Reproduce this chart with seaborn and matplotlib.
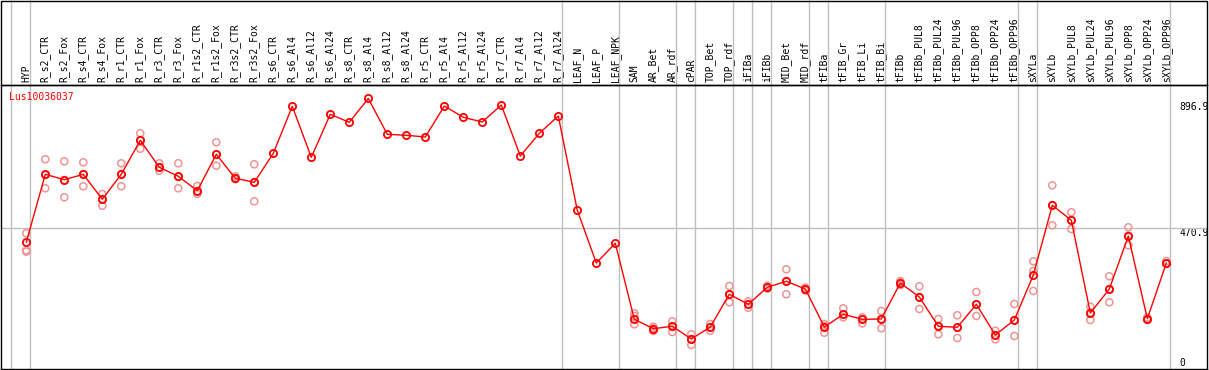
import matplotlib
matplotlib.use("Agg")
import matplotlib.pyplot as plt
import matplotlib.transforms as mtransforms
from matplotlib.patches import Rectangle
import seaborn as sns
import pandas as pd

gene = "Lus10036037"

samples = [
    "HYP", "R_s2_CTR", "R_s2_Fox", "R_s4_CTR", "R_s4_Fox", "R_r1_CTR", "R_r1_Fox",
    "R_r3_CTR", "R_r3_Fox", "R_r1s2_CTR", "R_r1s2_Fox", "R_r3s2_CTR", "R_r3s2_Fox",
    "R_s6_CTR", "R_s6_Al4", "R_s6_Al12", "R_s6_Al24", "R_s8_CTR", "R_s8_Al4",
    "R_s8_Al12", "R_s8_Al24", "R_r5_CTR", "R_r5_Al4", "R_r5_Al12", "R_r5_Al24",
    "R_r7_CTR", "R_r7_Al4", "R_r7_Al12", "R_r7_Al24", "LEAF_N", "LEAF_P", "LEAF_NPK",
    "SAM", "AR_Bet", "AR_rdf", "cPAR", "TOP_Bet", "TOP_rdf", "iFIBa", "iFIBb",
    "MID_Bet", "MID_rdf", "tFIBa", "tFIB_Gr", "tFIB_Li", "tFIB_Bi", "tFIBb",
    "tFIBb_PUL8", "tFIBb_PUL24", "tFIBb_PUL96", "tFIBb_OPP8", "tFIBb_OPP24",
    "tFIBb_OPP96", "sXYLa", "sXYLb", "sXYLb_PUL8", "sXYLb_PUL24", "sXYLb_PUL96",
    "sXYLb_OPP8", "sXYLb_OPP24", "sXYLb_OPP96",
]

# mean expression per sample
means = [
    425.2, 648.2, 630.5, 648.2, 566.2, 648.2, 759.7, 671.1, 641.6, 594.4, 713.8,
    635.1, 622.0, 717.0, 871.1, 703.9, 844.9, 818.7, 896.9, 779.3, 776.1, 770.5,
    872.1, 835.1, 819.7, 875.4, 708.2, 782.6, 839.3, 530.2, 357.4, 422.0,
    172.8, 142.0, 149.8, 108.2, 147.5, 254.8, 222.0, 277.7, 297.4, 272.1,
    147.5, 189.2, 172.8, 173.8, 291.8, 245.9, 149.8, 146.6, 222.0, 121.3, 170.5,
    318.0, 546.6, 497.4, 193.4, 272.1, 445.9, 174.8, 357.4,
]

# individual replicates (empty = single sample)
replicates = [
    [454.8, 399.0, 394.4], [697.4, 602.3, 645.9], [690.8, 572.8, 629.5],
    [687.5, 608.9, 649.2], [583.6, 545.2, 567.2], [684.3, 608.9, 649.2],
    [782.6, 732.1, 760.7], [684.3, 660.0, 670.5], [684.3, 602.3, 639.3],
    [609.8, 583.6, 593.4], [753.1, 676.4, 713.1], [641.6, 631.8, 634.4],
    [681.0, 559.7, 623.0],
    [], [], [], [], [], [], [], [], [], [], [], [], [], [], [], [], [], [], [],
    [192.5, 156.4, 183.6], [148.5, 134.4, 142.6], [166.2, 131.1, 149.8],
    [123.6, 88.5, 108.2], [157.4, 135.4, 147.5], [282.0, 228.5, 254.1],
    [231.8, 210.8, 223.0], [283.0, 273.1, 277.0], [336.7, 254.8, 298.4],
    [277.0, 267.2, 272.1], [157.4, 128.9, 150.8], [208.9, 179.3, 189.2],
    [179.3, 159.7, 172.8], [200.0, 143.3, 173.8], [298.4, 293.4, 285.2],
    [281.0, 206.6, 245.9], [173.8, 123.6, 150.8], [185.9, 111.5, 145.9],
    [262.3, 183.6, 221.3], [135.4, 107.2, 121.3], [223.0, 118.0, 170.5],
    [362.9, 331.1, 265.6], [612.1, 481.0, 546.9], [523.6, 468.9, 498.4],
    [214.1, 170.5, 195.1], [313.8, 228.5, 272.1], [474.4, 415.4, 447.5],
    [178.7, 170.5, 174.8], [363.9, 354.1, 355.7],
]

# last sample index of each group (separator drawn right after it)
group_ends = [-1, 0, 28, 31, 34, 35, 37, 38, 39, 41, 42, 45, 52, 53, 60]

max_label = "896.9"
mid_value = 470.9

df_mean = pd.DataFrame({"pos": range(len(samples)), "value": means})
df_rep = pd.DataFrame(
    [(i, v) for i, reps in enumerate(replicates) for v in reps],
    columns=["pos", "value"],
)

sns.set_style("white")
plt.rcParams["font.family"] = ["DejaVu Sans Mono"]
plt.rcParams["text.color"] = "black"
plt.rcParams["xtick.color"] = "black"
plt.rcParams["ytick.color"] = "black"

fig = plt.figure(figsize=(12.09, 3.70), dpi=100)
ax = fig.add_axes([1 / 1209, 1 / 370, 1206 / 1209, 284 / 370])

# separators and mid line
sep_trans = mtransforms.blended_transform_factory(ax.transData, ax.transAxes)
for g in group_ends:
    ax.plot([g + 0.21, g + 0.21], [0, 1.30], color="#c0c0c0", lw=1.0,
            transform=sep_trans, clip_on=False, zorder=1)
ax.axhline(mid_value, color="#c0c0c0", lw=1.0, zorder=1)

sns.scatterplot(data=df_rep, x="pos", y="value", ax=ax, marker="o", s=26,
                facecolors="none", edgecolor="#ee9494", linewidth=1.1, zorder=3)
sns.lineplot(data=df_mean, x="pos", y="value", ax=ax, color="red", lw=1.0,
             marker="o", markersize=5.2, markerfacecolor="none",
             markeredgecolor="red", markeredgewidth=1.3, zorder=4)

ax.set_xlim(-1.33, 62.14)
ax.set_ylim(9.8, 941)

# sample names on top
ax.xaxis.tick_top()
ax.set_xticks(range(len(samples)))
ax.set_xticklabels(samples, rotation=90, fontsize=7, color="black")
ax.tick_params(axis="x", length=0, pad=2)

# scale labels on the right, inside the frame
ax.yaxis.tick_right()
ax.set_yticks([872.8, 458.0, 33.8])
ax.set_yticklabels([max_label, f"{mid_value}", "0"], fontsize=7, color="black")
ax.tick_params(axis="y", length=0, pad=-20)

ax.set_xlabel("")
ax.set_ylabel("")
for sp in ax.spines.values():
    sp.set_color("black")
    sp.set_linewidth(1.0)

ax.text(0.0069, 0.959, gene, transform=ax.transAxes, color="red", fontsize=7,
        ha="left", va="center")

# frame around the label band
fig.add_artist(Rectangle((1 / 1209, 285 / 370), 1206 / 1209, 84.5 / 370,
                         transform=fig.transFigure, fill=False,
                         edgecolor="black", lw=1.0))

fig.savefig("out.png", dpi=100)
